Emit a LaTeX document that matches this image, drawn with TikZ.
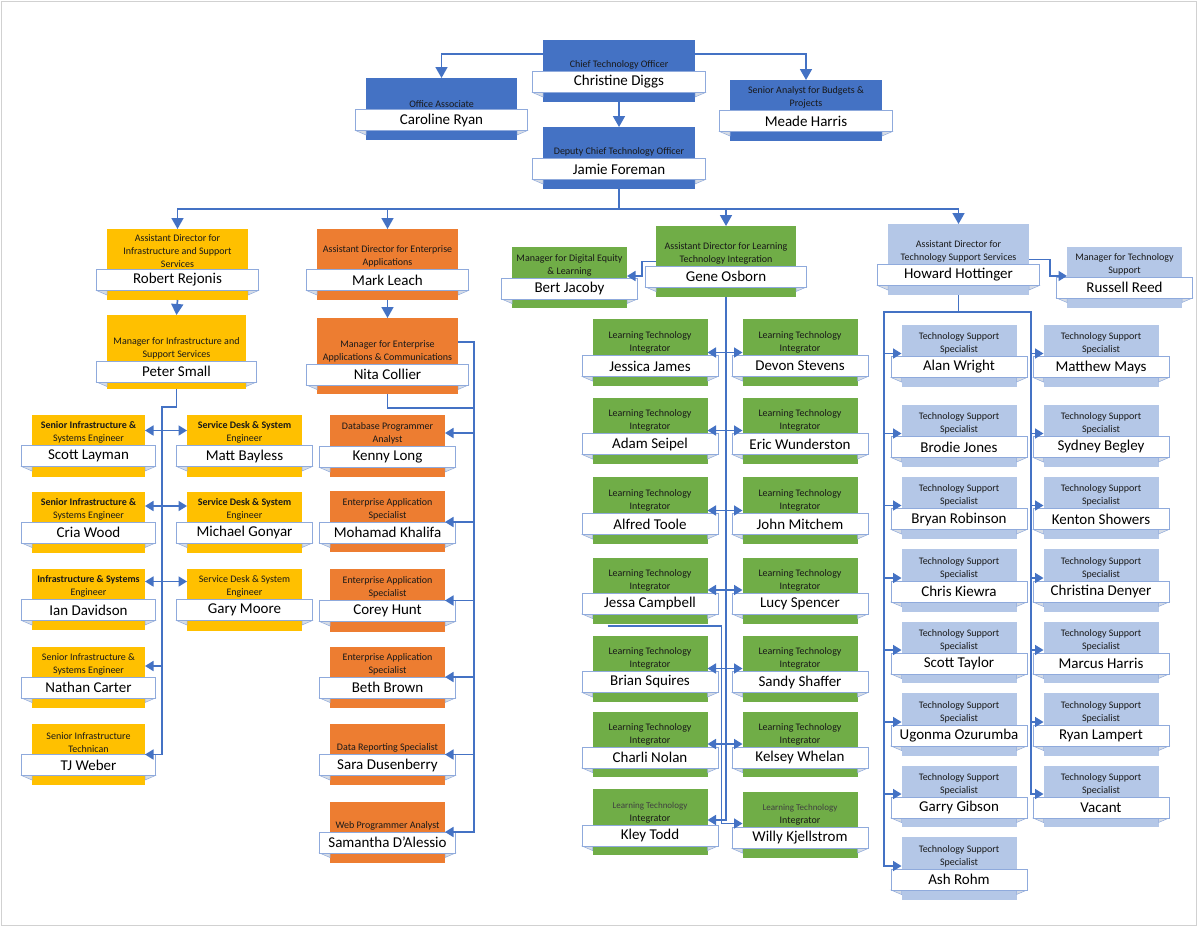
\documentclass[tikz,border=0pt]{standalone}
\usepackage{fontspec}
\setmainfont{Carlito}
\usetikzlibrary{arrows.meta}

\definecolor{CTOBlue}{RGB}{68, 114, 196}
\definecolor{Gold}{RGB}{255, 192, 0}
\definecolor{Tangerine}{RGB}{237, 125, 49}
\definecolor{Leaf}{RGB}{112, 173, 71}
\definecolor{SkyBlue}{RGB}{180, 199, 231}
\definecolor{LineBlue}{RGB}{68, 114, 196}
\definecolor{NameEdge}{RGB}{143, 170, 220}
\definecolor{FoldGray}{RGB}{214, 220, 229}

% card: id, fill, x, name y, width, top, bottom, title, name
\newcommand{\card}[9]{%
  \node[cardbox, fill=#2, minimum width=#5pt, minimum height={(#7-#6)*1pt}] (#1) at (#3,{(#6+#7)/2}) {};
  \node[cardtitle] at (#3,#4-11.5) {#8};
  \filldraw[fold] (#3-#5/2-10.5,#4+10.5) -- (#3-#5/2,#4+10.5) -- (#3-#5/2,#4+15) -- cycle;
  \filldraw[fold] (#3+#5/2+10.5,#4+10.5) -- (#3+#5/2,#4+10.5) -- (#3+#5/2,#4+15) -- cycle;
  \node[namebox, minimum width={(#5+21)*1pt}] (#1n) at (#3,#4) {#9};
  \coordinate (#1ne) at (#3+#5/2,#4-10.5);
  \coordinate (#1nw) at (#3-#5/2,#4-10.5);
}
\newcommand{\lightfont}{\fontsize{9}{11}\selectfont\color{black!75}}

\begin{document}
\begin{tikzpicture}[x=1pt, y=-1pt,
  cardbox/.style={rectangle, inner sep=0pt, outer sep=0pt},
  cardtitle/.style={anchor=south, align=center, inner sep=1pt, text=black!90, font=\fontsize{10}{13}\selectfont},
  namebox/.style={rectangle, draw=NameEdge, line width=0.6pt, fill=white, inner sep=0pt, outer sep=0pt, minimum height=21pt, font=\fontsize{15}{17}\selectfont},
  fold/.style={fill=FoldGray, draw=NameEdge, line width=0.5pt},
  conn/.style={draw=LineBlue, line width=1.7pt},
  arr/.style={-{Triangle[width=10pt,length=8.5pt]}},
  dbl/.style={{Triangle[width=10pt,length=8.5pt]}-{Triangle[width=10pt,length=8.5pt]}},
  bigarr/.style={-{Triangle[width=12pt,length=11pt]}}]
  \useasboundingbox (0,0) rectangle (1200,927);
  \fill[white] (0,0) rectangle (1200,927);

  % office of the CTO
  \card{cto}{CTOBlue}{619}{82}{152}{40}{102}{Chief Technology Officer}{Christine Diggs}
  \card{caroline}{CTOBlue}{441.5}{120}{151}{78}{140}{Office Associate}{Caroline Ryan}
  \card{meade}{CTOBlue}{806}{121}{152}{80}{141}{Senior Analyst for Budgets \&\\Projects}{Meade Harris}
  \card{deputy}{CTOBlue}{619}{169}{152}{127}{189}{Deputy Chief Technology Officer}{Jamie Foreman}

  % infrastructure and support
  \card{robert}{Gold}{177.5}{280}{141}{229}{300}{Assistant Director for\\Infrastructure and Support\\Services}{Robert Rejonis}
  \card{peter}{Gold}{176.5}{371.5}{139}{315}{389}{Manager for Infrastructure and\\Support Services}{Peter Small}
  \card{layman}{Gold}{88.5}{456}{113}{415}{477}{\textbf{Senior Infrastructure \&}\\Systems Engineer}{Scott Layman}
  \card{cria}{Gold}{88.5}{532.5}{113}{492}{553}{\textbf{Senior Infrastructure \&}\\Systems Engineer}{Cria Wood}
  \card{ian}{Gold}{88.5}{610}{113}{569}{630}{\textbf{Infrastructure \& Systems}\\Engineer}{Ian Davidson}
  \card{nathan}{Gold}{88.5}{687.5}{113}{647}{708}{Senior Infrastructure \&\\Systems Engineer}{Nathan Carter}
  \card{tj}{Gold}{88.5}{765}{113}{724}{785}{Senior Infrastructure\\Technican}{TJ Weber}
  \card{matt}{Gold}{244.5}{456}{115}{415}{477}{\textbf{Service Desk \& System}\\Engineer}{Matt Bayless}
  \card{michael}{Gold}{244.5}{532.5}{115}{492}{553}{\textbf{Service Desk \& System}\\Engineer}{Michael Gonyar}
  \card{gary}{Gold}{244.5}{610}{115}{569}{631}{Service Desk \& System\\Engineer}{Gary Moore}

  % enterprise applications
  \card{mark}{Tangerine}{387.5}{280}{141}{229}{300}{Assistant Director for Enterprise\\Applications}{Mark Leach}
  \card{nita}{Tangerine}{387.5}{374.5}{141}{318}{394}{Manager for Enterprise\\Applications \& Communications}{Nita Collier}
  \card{kenny}{Tangerine}{387.5}{457}{115}{415}{477}{Database Programmer\\Analyst}{Kenny Long}
  \card{mohamad}{Tangerine}{387.5}{532.5}{115}{491}{552}{Enterprise Application\\Specialist}{Mohamad Khalifa}
  \card{corey}{Tangerine}{387.5}{611}{115}{569}{632}{Enterprise Application\\Specialist}{Corey Hunt}
  \card{beth}{Tangerine}{387.5}{687.5}{115}{647}{708}{Enterprise Application\\Specialist}{Beth Brown}
  \card{sara}{Tangerine}{387.5}{765}{115}{724}{785}{Data Reporting Specialist}{Sara Dusenberry}
  \card{samantha}{Tangerine}{387.5}{842.5}{115}{802}{863}{Web Programmer Analyst}{Samantha D'Alessio}

  % learning technology
  \card{gene}{Leaf}{726}{276.5}{140}{226}{297}{Assistant Director for Learning\\Technology Integration}{Gene Osborn}
  \card{bert}{Leaf}{569.5}{288.5}{115}{247}{308}{Manager for Digital Equity\\\& Learning}{Bert Jacoby}
  \card{jessica}{Leaf}{650}{366}{115}{319}{386}{Learning Technology\\Integrator}{Jessica James}
  \card{devon}{Leaf}{800}{366}{115}{319}{386}{Learning Technology\\Integrator}{Devon Stevens}
  \card{adam}{Leaf}{650}{444}{115}{398}{464}{Learning Technology\\Integrator}{Adam Seipel}
  \card{eric}{Leaf}{800}{444}{115}{398}{464}{Learning Technology\\Integrator}{Eric Wunderston}
  \card{alfred}{Leaf}{650}{524}{115}{477}{544}{Learning Technology\\Integrator}{Alfred Toole}
  \card{john}{Leaf}{800}{524}{115}{477}{544}{Learning Technology\\Integrator}{John Mitchem}
  \card{jessa}{Leaf}{650}{603.5}{115}{558}{624}{Learning Technology\\Integrator}{Jessa Campbell}
  \card{lucy}{Leaf}{800}{603.5}{115}{558}{624}{Learning Technology\\Integrator}{Lucy Spencer}
  \card{brian}{Leaf}{650}{682}{115}{636}{702}{Learning Technology\\Integrator}{Brian Squires}
  \card{sandy}{Leaf}{800}{682}{115}{636}{702}{Learning Technology\\Integrator}{Sandy Shaffer}
  \card{charli}{Leaf}{650}{757.5}{115}{712}{777}{Learning Technology\\Integrator}{Charli Nolan}
  \card{kelsey}{Leaf}{800}{757.5}{115}{712}{777}{Learning Technology\\Integrator}{Kelsey Whelan}
  \card{kley}{Leaf}{650}{835.5}{115}{789}{855}{\lightfont Learning Technology\\Integrator}{Kley Todd}
  \card{willy}{Leaf}{800}{838}{115}{792}{858}{\lightfont Learning Technology\\Integrator}{Willy Kjellstrom}

  % technology support
  \card{howard}{SkyBlue}{958.5}{275}{141}{224}{295}{Assistant Director for\\Technology Support Services}{Howard Hottinger}
  \card{russell}{SkyBlue}{1124.5}{287.5}{115}{247}{308}{Manager for Technology\\Support}{Russell Reed}
  \card{alan}{SkyBlue}{959}{367}{115}{325}{387}{Technology Support\\Specialist}{Alan Wright}
  \card{matthew}{SkyBlue}{1101}{367}{115}{325}{387}{Technology Support\\Specialist}{Matthew Mays}
  \card{brodie}{SkyBlue}{959}{447}{115}{405}{467}{Technology Support\\Specialist}{Brodie Jones}
  \card{sydney}{SkyBlue}{1101}{447}{115}{405}{467}{Technology Support\\Specialist}{Sydney Begley}
  \card{bryan}{SkyBlue}{959}{519}{115}{477}{539}{Technology Support\\Specialist}{Bryan Robinson}
  \card{kenton}{SkyBlue}{1101}{519}{115}{477}{539}{Technology Support\\Specialist}{Kenton Showers}
  \card{chris}{SkyBlue}{959}{591.5}{115}{549}{612}{Technology Support\\Specialist}{Chris Kiewra}
  \card{christina}{SkyBlue}{1101}{591.5}{115}{549}{612}{Technology Support\\Specialist}{Christina Denyer}
  \card{staylor}{SkyBlue}{959}{663.5}{115}{622}{683}{Technology Support\\Specialist}{Scott Taylor}
  \card{marcus}{SkyBlue}{1101}{663.5}{115}{622}{683}{Technology Support\\Specialist}{Marcus Harris}
  \card{ugonma}{SkyBlue}{959}{735.5}{115}{693}{756}{Technology Support\\Specialist}{Ugonma Ozurumba}
  \card{ryan}{SkyBlue}{1101}{735.5}{115}{693}{756}{Technology Support\\Specialist}{Ryan Lampert}
  \card{garry}{SkyBlue}{959}{807.5}{115}{766}{827}{Technology Support\\Specialist}{Garry Gibson}
  \card{vacant}{SkyBlue}{1101}{807.5}{115}{766}{827}{Technology Support\\Specialist}{Vacant}
  \card{ash}{SkyBlue}{959}{879.5}{115}{837}{900}{Technology Support\\Specialist}{Ash Rohm}

  % top connectors
  \draw[conn, bigarr] ([yshift=17pt]cto.west) -| (caroline.north);
  \draw[conn, bigarr] ([yshift=17pt]cto.east) -| (meade.north);
  \draw[conn, bigarr] (cto.south) -- (deputy.north);
  \draw[conn] (deputy.south) -- ++(0,20) coordinate (bus);
  \draw[conn, bigarr] (bus) -| (robert.north);
  \draw[conn, bigarr] (bus) -| (mark.north);
  \draw[conn, bigarr] (bus) -| (gene.north);
  \draw[conn, bigarr] (bus) -| (howard.north);

  % infrastructure connectors
  \draw[conn, bigarr] (robert.south) -- (peter.north);
  \draw[conn, arr] (peter.south) -- ++(0,18) -- ++(-14.5,0) coordinate (ybus) |- (tjne);
  \draw[conn, dbl] ([yshift=15pt]laymanne) -- ([yshift=15pt]mattnw);
  \draw[conn, dbl] ([yshift=16pt]criane) -- ([yshift=16pt]michaelnw);
  \draw[conn, dbl] ([yshift=18pt]ianne) -- ([yshift=18pt]garynw);
  \path ([yshift=11pt]nathanne) coordinate (nathanA);
  \draw[conn, arr] (ybus |- nathanA) -- (nathanA);

  % enterprise connectors
  \draw[conn, bigarr] (mark.south) -- (nita.north);
  \draw[conn, arr] ([yshift=14pt]nita.east) -- ++(16,0) coordinate (obus) |- (samanthane);
  \draw[conn] (nita.south) -- ++(0,14) -| (obus);
  \foreach \who/\up in {kenny/13.5, mohamad/0, corey/0, beth/0, sara/0} {
    \path ([yshift=\up pt]\who ne) coordinate (tmp);
    \draw[conn, arr] (obus |- tmp) -- (tmp);
  }

  % learning connectors
  \path ([yshift=2pt]bertne) coordinate (bertA);
  \draw[conn, arr] (gene.west) -- ++(-14,0) |- (bertA);
  \path ([yshift=5pt]kleyne) coordinate (kleyA);
  \draw[conn, arr] (gene.south) |- (kleyA);
  \foreach \lhs/\rhs in {jessica/devon, adam/eric, alfred/john, jessa/lucy, brian/sandy, charli/kelsey}
    \draw[conn, dbl] ([yshift=3pt]\lhs ne) -- ([yshift=3pt]\rhs nw);
  \path ([yshift=4pt]willynw) coordinate (willyA);
  \draw[conn, arr] ([xshift=15pt,yshift=-2pt]jessa.south west) -- ++(114,0) |- (willyA);

  % support connectors
  \path ([yshift=1pt]russellnw) coordinate (russA);
  \draw[conn, arr] (howard.east) -- ++(21,0) |- (russA);
  \draw[conn] (howard.south) -- ++(0,17) coordinate (bmid);
  \path ([yshift=3pt]ashnw) coordinate (ashA);
  \path ([yshift=3pt]vacantnw) coordinate (vacantA);
  \draw[conn, arr] (bmid) -- ++(-74.5,0) coordinate (lbus) |- (ashA);
  \draw[conn, arr] (bmid) -- ++(72.5,0) coordinate (rbus) |- (vacantA);
  \foreach \who in {alan, brodie, bryan, chris, staylor, ugonma, garry} {
    \path ([yshift=3pt]\who nw) coordinate (tmp);
    \draw[conn, arr] (lbus |- tmp) -- (tmp);
  }
  \foreach \who in {matthew, sydney, kenton, christina, marcus, ryan} {
    \path ([yshift=3pt]\who nw) coordinate (tmp);
    \draw[conn, arr] (rbus |- tmp) -- (tmp);
  }

  \draw[black!18, line width=1pt] (1.5,1.5) rectangle (1196,925);
\end{tikzpicture}
\end{document}
